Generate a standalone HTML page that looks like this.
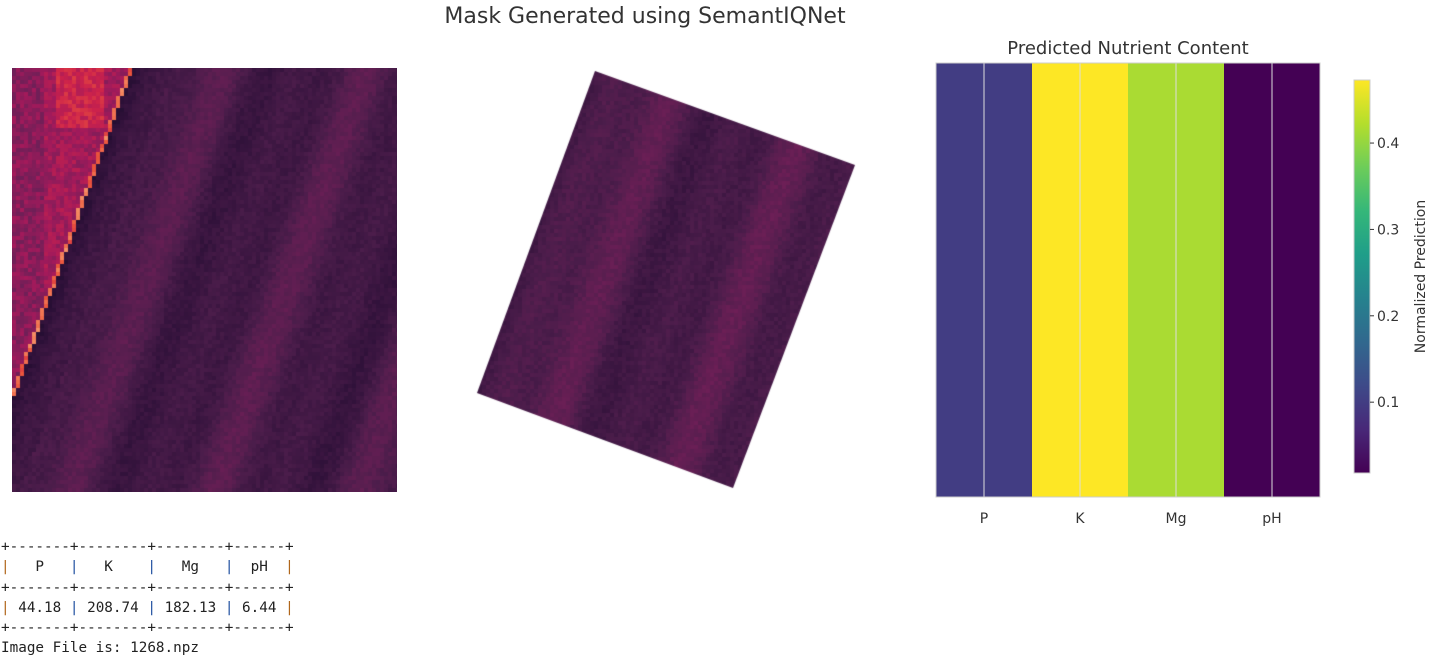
<!DOCTYPE html>
<html><head><meta charset="utf-8">
<style>
body{margin:0;width:1435px;height:664px;background:#fff;position:relative;overflow:hidden;font-family:"DejaVu Sans","Liberation Sans",sans-serif;}
.abs{position:absolute;}
#title{left:0;width:1290px;top:4px;text-align:center;font-size:22px;color:#333;}
#tbl{left:1px;top:537px;font-family:"DejaVu Sans Mono","Liberation Mono",monospace;font-size:14.3px;line-height:20.3px;color:#222;white-space:pre;margin:0;}
.b{color:#1f4fa0}.o{color:#b0661b}
</style></head><body>
<div id="title" class="abs">Mask Generated using SemantIQNet</div>
<canvas id="img1" class="abs" style="left:12px;top:68px" width="385" height="424"></canvas>
<canvas id="img2" class="abs" style="left:470px;top:65px" width="400" height="430"></canvas>
<svg id="chart" class="abs" style="left:900px;top:30px" width="535" height="510"></svg>
<pre id="tbl" class="abs">+-------+--------+--------+------+
<span class="o">|</span>   P   <span class="b">|</span>   K    <span class="b">|</span>   Mg   <span class="b">|</span>  pH  <span class="o">|</span>
+-------+--------+--------+------+
<span class="o">|</span> 44.18 <span class="b">|</span> 208.74 <span class="b">|</span> 182.13 <span class="b">|</span> 6.44 <span class="o">|</span>
+-------+--------+--------+------+
Image File is: 1268.npz</pre>
<script>
// ---- chart data ----
const categories=["P","K","Mg","pH"];
const values=[0.10,0.473,0.415,0.018];
const cbTicks=[0.1,0.2,0.3,0.4];
const vmin=0.018, vmax=0.473;

const V=[[68,1,84],[72,40,120],[62,74,137],[49,104,142],[38,130,142],[31,158,137],[53,183,121],[109,205,89],[180,222,44],[253,231,37]];
function viridis(t){t=Math.max(0,Math.min(1,t))*9;const i=Math.min(8,Math.floor(t)),f=t-i;const a=V[i],b=V[i+1];return `rgb(${a.map((c,k)=>Math.round(c+(b[k]-c)*f)).join(',')})`;}
const NS='http://www.w3.org/2000/svg';
const svg=document.getElementById('chart');
function mk(t,a,p){const e=document.createElementNS(NS,t);for(const k in a)e.setAttribute(k,a[k]);(p||svg).appendChild(e);return e;}
const px0=36,px1=420,py0=33,py1=467;
const bw=(px1-px0)/categories.length;
const xPos=i=>px0+i*bw;
const norm=v=>(v-vmin)/(vmax-vmin);
categories.forEach((c,i)=>{
  const r=mk('rect',{x:xPos(i),y:py0,width:bw+0.5,height:py1-py0,fill:viridis(norm(values[i]))});
  
  
  mk('line',{x1:xPos(i)+bw/2,x2:xPos(i)+bw/2,y1:py0,y2:py1,stroke:'#ddd','stroke-width':1});
  const t=mk('text',{x:xPos(i)+bw/2,y:py1+26,'text-anchor':'middle','font-size':14,fill:'#333'});
  t.textContent=c;
  
  
});
mk('rect',{x:px0,y:py0,width:px1-px0,height:py1-py0,fill:'none',stroke:'#ccc'});
const ct=mk('text',{x:(px0+px1)/2,y:24,'text-anchor':'middle','font-size':18,fill:'#333'});
ct.textContent='Predicted Nutrient Content';


const cx=454,cw=16,cy0=50,cy1=443;
const defs=mk('defs',{});const g=mk('linearGradient',{id:'vg',x1:0,y1:1,x2:0,y2:0},defs);
for(let i=0;i<=9;i++)mk('stop',{offset:i/9,'stop-color':viridis(i/9)},g);
const cb=mk('rect',{x:cx,y:cy0,width:cw,height:cy1-cy0,fill:'url(#vg)',stroke:'#ccc'});


const cbY=v=>cy1-(v-vmin)/(vmax-vmin)*(cy1-cy0);
cbTicks.forEach(v=>{
  mk('line',{x1:cx+cw,x2:cx+cw+4,y1:cbY(v),y2:cbY(v),stroke:'#333'});
  const t=mk('text',{x:cx+cw+7,y:cbY(v)+5,'font-size':14,fill:'#333'});
  t.textContent=v.toFixed(1);
  
  
});
const cl=mk('text',{x:0,y:0,'font-size':14,fill:'#333','text-anchor':'middle',transform:`translate(${cx+cw+55},${(cy0+cy1)/2}) rotate(-90)`});
cl.textContent='Normalized Prediction';



// ---- image textures ----
let seed=1268;function rnd(){seed=(seed*16807)%2147483647;return seed/2147483647;}
const M=[[3,5,26],[45,16,56],[76,29,75],[112,31,87],[161,26,91],[205,34,75],[234,84,60],[244,135,95],[246,180,143]];
function magma(t){t=Math.max(0,Math.min(1,t))*8;const i=Math.min(7,Math.floor(t)),f=t-i;const a=M[i],b=M[i+1];return `rgb(${a.map((c,k)=>Math.round(c+(b[k]-c)*f)).join(',')})`;}
function field(u,v){
  const s=u+v*0.36;
  return 0.23+0.05*Math.sin(s*0.04)+0.035*Math.sin(s*0.09+1.3)+(rnd()-0.5)*0.06;
}
(function(){
  const c=document.getElementById('img1').getContext('2d');const p=4;
  for(let y=0;y<424;y+=p)for(let x=0;x<385;x+=p){
    const line=118-(y)*0.36;
    let t;
    if(x<line-4){t=0.5+(rnd()-0.5)*0.14+(y<60&&x>40&&x<90?0.12:0)-(x<30?0.06:0);}
    else if(x<line){t=0.7+rnd()*0.2;}
    else t=field(x,y)-(x<line+40?0.04:0);
    c.fillStyle=magma(t);c.fillRect(x,y,p,p);
  }
})();
(function(){
  const c=document.getElementById('img2').getContext('2d');
  const P=[[125,6],[385,100],[263,423],[7,328]];
  c.save();c.beginPath();P.forEach((q,i)=>i?c.lineTo(q[0],q[1]):c.moveTo(q[0],q[1]));c.closePath();c.clip();
  const p=4;
  for(let y=0;y<430;y+=p)for(let x=0;x<400;x+=p){
    c.fillStyle=magma(field(x,y)+0.02);c.fillRect(x,y,p,p);
  }
  c.restore();
})();
</script>
</body></html>
